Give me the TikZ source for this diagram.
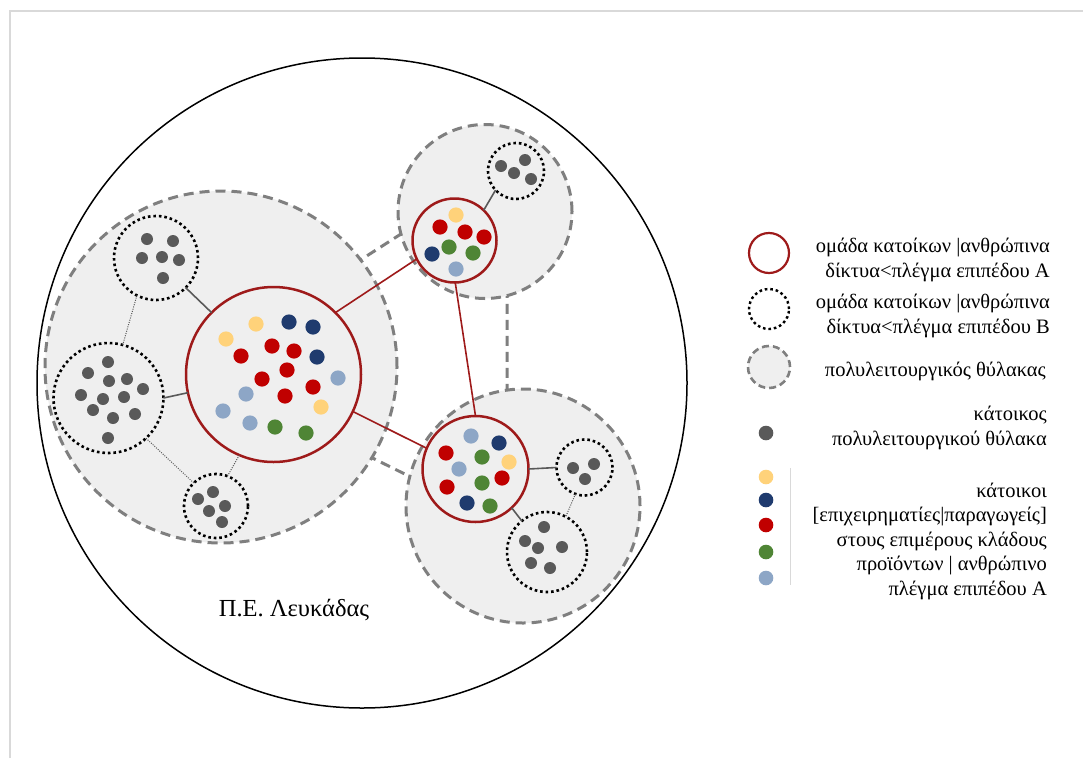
\documentclass[tikz,border=0pt]{standalone}
\usepackage{fontspec}
\setmainfont{Liberation Serif}
\definecolor{envfill}{HTML}{EFEFEF}
\definecolor{envline}{HTML}{7F7F7F}
\definecolor{redline}{HTML}{9E1A1A}
\definecolor{cred}{HTML}{C00000}
\definecolor{cnavy}{HTML}{1F3B6E}
\definecolor{cgreen}{HTML}{4F8535}
\definecolor{cyellow}{HTML}{FFD27A}
\definecolor{cblue}{HTML}{8DA6C6}
\definecolor{cgray}{HTML}{595959}
\definecolor{framecol}{HTML}{D9D9D9}
\begin{document}
\begin{tikzpicture}[x=1pt,y=-1pt,
  envelope/.style={circle,draw=envline,fill=envfill,line width=3pt,dash pattern=on 10pt off 6pt,inner sep=0,outer sep=0},
  groupA/.style={circle,draw=redline,fill=envfill,line width=2.5pt,inner sep=0,outer sep=0},
  groupB/.style={circle,draw=black,line width=2.6pt,dash pattern=on 2.6pt off 2.9pt,inner sep=0,outer sep=0},
  redlink/.style={draw=redline,line width=1.6pt},
  graylink/.style={draw=cgray,line width=1.6pt},
  dotlink/.style={draw=cgray,line width=1pt,dash pattern=on 1pt off 1.3pt},
  bridge/.style={draw=envline,line width=3pt,dash pattern=on 10pt off 6pt},
  legtext/.style={anchor=east,align=right,inner sep=0,font=\fontsize{20.5}{24.5}\selectfont},
]
\useasboundingbox (0,0) rectangle (1083,758);
\draw[framecol,line width=1.2pt] (10,758) -- (10,11) -- (1083,11);

% outer region
\node[circle,draw=black,line width=1.5pt,minimum size=650,inner sep=0] (outer) at (362,383) {};

% bridge between envelopes
\coordinate (bA) at (192,368);
\coordinate (bB) at (507,166);
\coordinate (bC) at (507,525);
\draw[bridge] (bA) -- (bB) -- (bC) -- cycle;

% envelopes
\node[envelope,minimum size=352] (envL) at (221,367) {};
\node[envelope,minimum size=174] (envT) at (485,211.5) {};
\node[envelope,minimum size=234] (envB) at (523,506) {};

% groups level B
\node[groupB,minimum size=84] (g1) at (156,258) {};
\node[groupB,minimum size=110] (g2) at (108.5,398) {};
\node[groupB,minimum size=64] (g3) at (216,506) {};
\node[groupB,minimum size=56] (g4) at (516,171) {};
\node[groupB,minimum size=56] (g5) at (584.5,467.5) {};
\node[groupB,minimum size=80] (g6) at (547,552) {};

% groups level A
\node[groupA,minimum size=175] (c) at (273.5,374.5) {};
\node[groupA,minimum size=84] (t) at (454.5,240.5) {};
\node[groupA,minimum size=106] (b) at (475.5,469) {};

% red links
\draw[redlink] (c.45) -- (t.206);
\draw[redlink] (t.-89) -- (b.90);
\draw[redlink] (c.-25) -- (b.157);

% gray links
\draw[graylink] (g1.-45) -- (c.135);
\draw[graylink] (g2.0) -- (c.192);
\draw[graylink] (t.46) -- (g4.223);
\draw[graylink] (b.0) -- (g5.180);
\draw[graylink] (b.-47) -- (g6.129);
\draw[dotlink] (g1.243) -- (g2.75);
\draw[dotlink] (g2.-47) -- (g3.134);
\draw[dotlink] (g3.69) -- (c.247);
\draw[dotlink] (g5.251) -- (g6.62);

% gray inhabitants
\foreach \p in {(147,239),(173,241),(142,258),(162,257),(179,260),(163,278),
  (108,362),(88,373),(109,381),(127,379),(143,389),(81,395),(103,399),(124,397),(93,410),(113,418),(135,414),(108,438),
  (198,499),(213,492),(209,511),(225,506),(222,522),
  (501,166),(525,160),(514,173),(531,179),
  (573,468),(594,464),(585,479),
  (544,527),(525,541),(562,547),(538,548),(531,563),(550,568)}
  \fill[cgray] \p circle (6);

% coloured inhabitants
\foreach \p in {(226,339),(256,324),(321,407),(456,215),(509,462)} \fill[cyellow] \p circle (7.6);
\foreach \p in {(289,322),(313,327),(317,357),(432,254),(499,443),(467,503)} \fill[cnavy] \p circle (7.6);
\foreach \p in {(272,346),(294,351),(241,356),(287,370),(262,379),(313,387),(285,396),
  (440,227),(465,232),(484,237),(446,453),(502,478),(447,487)} \fill[cred] \p circle (7.6);
\foreach \p in {(338,378),(246,394),(223,411),(250,423),(456,269),(471,436),(459,469)} \fill[cblue] \p circle (7.6);
\foreach \p in {(275,427),(306,433),(449,247),(473,253),(482,457),(482,483),(490,506)} \fill[cgreen] \p circle (7.6);

% title
\node[inner sep=0,font=\fontsize{24.5}{28}\selectfont] (title) at (294,610) {Π.Ε. Λευκάδας};

% legend
\node[groupA,minimum size=40,line width=2.2pt,fill=none] (lgA) at (769,253) {};
\node[groupB,minimum size=40,line width=2.4pt] (lgB) at (769,309) {};
\node[envelope,minimum size=42,line width=2.6pt,dash pattern=on 7pt off 4pt] (lgE) at (769,367) {};
\node[legtext] (tA) at (1050,260) {ομάδα κατοίκων |ανθρώπινα\\δίκτυα<πλέγμα επιπέδου Α};
\node[legtext] (tB) at (1050,316) {ομάδα κατοίκων |ανθρώπινα\\δίκτυα<πλέγμα επιπέδου Β};
\node[legtext] (tE) at (1046,371) {πολυλειτουργικός θύλακας};
\node[circle,fill=cgray,minimum size=14.6,inner sep=0] (lgG) at (766,433) {};
\node[legtext] (tG) at (1047,428) {κάτοικος\\πολυλειτουργικού θύλακα};
\node[circle,fill=cyellow,minimum size=14.6,inner sep=0] (lg1) at (766,477) {};
\node[circle,fill=cnavy,minimum size=14.6,inner sep=0] (lg2) at (766,500) {};
\node[circle,fill=cred,minimum size=14.6,inner sep=0] (lg3) at (766,525) {};
\node[circle,fill=cgreen,minimum size=14.6,inner sep=0] (lg4) at (766,552) {};
\node[circle,fill=cblue,minimum size=14.6,inner sep=0] (lg5) at (766,578) {};
\coordinate (vt) at (790,468);
\coordinate (vb) at (790,585);
\draw[framecol,line width=0.8pt] (vt) -- (vb);
\node[legtext] (tC) at (1047,541) {κάτοικοι\\{[}επιχειρηματίες|παραγωγείς{]}\\στους επιμέρους κλάδους\\προϊόντων | ανθρώπινο\\πλέγμα επιπέδου Α};
\end{tikzpicture}
\end{document}
